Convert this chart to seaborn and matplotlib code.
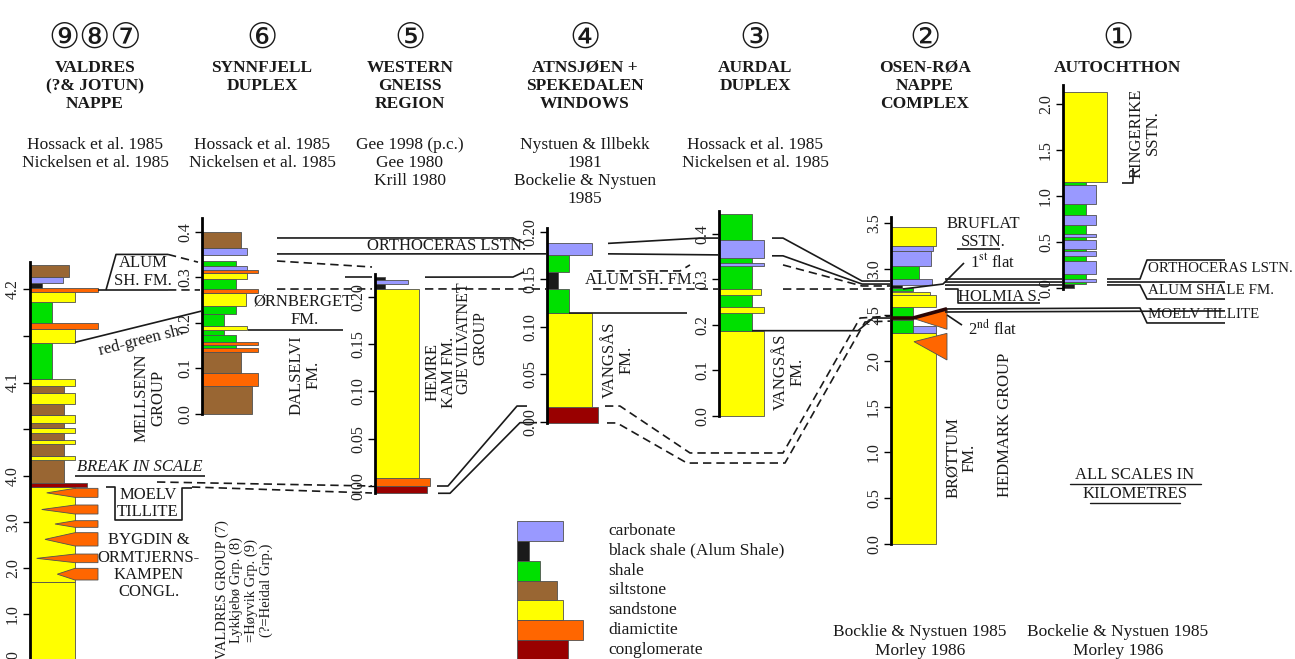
import numpy as np
import pandas as pd
import matplotlib
matplotlib.use("Agg")
import matplotlib.pyplot as plt
from matplotlib.patches import Polygon
from matplotlib.transforms import blended_transform_factory
import seaborn as sns

# ---------------------------------------------------------------- lithologies
LITH_NAMES = ["carbonate", "black shale", "shale", "siltstone",
              "sandstone", "diamictite", "conglomerate"]
LITH_LABELS = ["carbonate", "black shale (Alum Shale)", "shale", "siltstone",
               "sandstone", "diamictite", "conglomerate"]
LITH_HEX = ["#9999FF", "#1A1A1A", "#00E000", "#996633",
            "#FFFF00", "#FF6600", "#990000"]
LEGEND_PROFILE = [46, 12, 23, 40, 46, 66, 51]

# ------------------------------------------- columns: (lithology, base, top, profile width)
VALDRES = [
    ("sandstone", 0.0, 1.70, 45), ("sandstone", 1.70, 3.767, 45),
    ("conglomerate", 3.767, 3.855, 57), ("siltstone", 3.855, 4.0167, 34),
    ("sandstone", 4.0167, 4.0212, 45), ("siltstone", 4.0212, 4.0338, 34),
    ("sandstone", 4.0338, 4.0383, 45), ("siltstone", 4.0383, 4.0459, 34),
    ("sandstone", 4.0459, 4.0509, 45), ("siltstone", 4.0509, 4.0563, 34),
    ("sandstone", 4.0563, 4.0653, 45), ("siltstone", 4.0653, 4.0765, 34),
    ("sandstone", 4.0765, 4.0891, 45), ("siltstone", 4.0891, 4.0968, 34),
    ("sandstone", 4.0968, 4.1035, 45), ("shale", 4.1035, 4.1418, 22),
    ("sandstone", 4.1418, 4.1575, 45), ("diamictite", 4.1575, 4.164, 68),
    ("shale", 4.164, 4.186, 22), ("sandstone", 4.186, 4.197, 45),
    ("diamictite", 4.197, 4.2015, 68), ("black shale", 4.2015, 4.206, 12),
    ("carbonate", 4.206, 4.2125, 33), ("siltstone", 4.2125, 4.226, 39),
]
# diamictite lenses in the Bygdin conglomerate: (base, top, tip offset)
VALDRES_LENSES = [(3.536, 3.732, 16.7), (3.174, 3.370, 11.7), (2.884, 3.029, 25.0),
                  (2.478, 2.768, 15.0), (2.116, 2.304, 6.7), (1.739, 1.993, 27.3)]

SYNNFJELL = [
    ("siltstone", 0.0, 0.062, 50), ("diamictite", 0.062, 0.089, 56),
    ("siltstone", 0.089, 0.137, 39), ("diamictite", 0.137, 0.144, 56),
    ("shale", 0.144, 0.151, 34), ("diamictite", 0.151, 0.158, 56),
    ("shale", 0.158, 0.173, 34), ("shale", 0.173, 0.184, 22),
    ("sandstone", 0.184, 0.193, 45), ("shale", 0.193, 0.220, 22),
    ("shale", 0.220, 0.236, 34), ("sandstone", 0.236, 0.265, 44),
    ("diamictite", 0.265, 0.275, 56), ("shale", 0.275, 0.297, 34),
    ("sandstone", 0.297, 0.309, 45), ("diamictite", 0.309, 0.315, 56),
    ("carbonate", 0.315, 0.324, 45), ("shale", 0.324, 0.336, 34),
    ("carbonate", 0.348, 0.365, 45), ("siltstone", 0.365, 0.400, 39),
]

WESTERN_GNEISS = [
    ("conglomerate", -0.0074, 0.0, 52), ("diamictite", 0.0, 0.008, 55),
    ("sandstone", 0.008, 0.208, 44), ("black shale", 0.208, 0.221, 10),
    ("carbonate", 0.2135, 0.2175, 33),
]

ATNSJOEN = [
    ("conglomerate", -0.001, 0.016, 51), ("sandstone", 0.016, 0.115, 45),
    ("shale", 0.115, 0.140, 22), ("black shale", 0.140, 0.158, 11),
    ("shale", 0.158, 0.176, 22), ("carbonate", 0.176, 0.188, 45),
]

AURDAL = [
    ("sandstone", 0.0, 0.1875, 45), ("shale", 0.1875, 0.444, 33),
    ("sandstone", 0.226, 0.239, 45), ("sandstone", 0.267, 0.279, 42),
    ("carbonate", 0.330, 0.336, 45), ("carbonate", 0.348, 0.386, 45),
]

OSEN_ROA = [
    ("sandstone", 0.0, 2.30, 45), ("carbonate", 2.30, 2.38, 45),
    ("shale", 2.30, 2.45, 22), ("shale", 2.45, 2.59, 22),
    ("sandstone", 2.59, 2.72, 45), ("sandstone", 2.72, 2.75, 39),
    ("shale", 2.76, 2.79, 22), ("black shale", 2.79, 2.83, 11),
    ("carbonate", 2.83, 2.89, 41), ("shale", 2.89, 3.035, 28),
    ("carbonate", 3.035, 3.20, 40), ("carbonate", 3.20, 3.25, 42),
    ("sandstone", 3.25, 3.46, 45),
]
# diamictite wedges on the thrust flats: (base, top, tip level)
OSEN_ROA_WEDGES = [(2.344, 2.562, 2.46), (2.009, 2.300, 2.209)]

AUTOCHTHON = [
    ("black shale", 0.0, 0.04, 11), ("shale", 0.04, 0.06, 23),
    ("carbonate", 0.06, 0.10, 33), ("shale", 0.10, 0.15, 23),
    ("carbonate", 0.15, 0.29, 33), ("shale", 0.29, 0.35, 23),
    ("carbonate", 0.35, 0.40, 33), ("shale", 0.40, 0.42, 23),
    ("carbonate", 0.42, 0.52, 33), ("shale", 0.52, 0.55, 23),
    ("carbonate", 0.55, 0.59, 33), ("shale", 0.59, 0.69, 23),
    ("carbonate", 0.69, 0.79, 33), ("shale", 0.79, 0.92, 23),
    ("carbonate", 0.92, 1.12, 33), ("shale", 1.12, 1.15, 23),
    ("sandstone", 1.15, 2.14, 44),
]

# ---------------------------------------------------------------- headers
HEADER_NUMBERS = ["⑨⑧⑦", "⑥", "⑤", "④", "③", "②", "①"]
HEADER_TITLES = [
    ["VALDRES", "(?& JOTUN)", "NAPPE"], ["SYNNFJELL", "DUPLEX"],
    ["WESTERN", "GNEISS", "REGION"], ["ATNSJØEN +", "SPEKEDALEN", "WINDOWS"],
    ["AURDAL", "DUPLEX"], ["OSEN-RØA", "NAPPE", "COMPLEX"], ["AUTOCHTHON"],
]
HEADER_REFS = [
    ["Hossack et al. 1985", "Nickelsen et al. 1985"],
    ["Hossack et al. 1985", "Nickelsen et al. 1985"],
    ["Gee 1998 (p.c.)", "Gee 1980", "Krill 1980"],
    ["Nystuen & Illbekk", "1981", "Bockelie & Nystuen", "1985"],
    ["Hossack et al. 1985", "Nickelsen et al. 1985"],
    [], [],
]
FOOT_REFS = [["Bocklie & Nystuen 1985", "Morley 1986"],
             ["Bockelie & Nystuen 1985", "Morley 1986"]]

# ---------------------------------------------------------------- figure
W, H, DPI = 1295, 659, 100
sns.set_theme(style="white")
plt.rcParams["font.family"] = ["Liberation Serif", "DejaVu Sans"]
plt.rcParams["mathtext.fontset"] = "stix"
COLOR = dict(zip(LITH_NAMES, LITH_HEX))
INK = "#1a1a1a"

fig = plt.figure(figsize=(W / DPI, H / DPI), dpi=DPI)
fig.patch.set_facecolor("white")
canvas = fig.add_axes([0, 0, 1, 1], zorder=10)
canvas.set_xlim(0, W)
canvas.set_ylim(H, 0)
canvas.axis("off")
canvas.patch.set_alpha(0)

STRETCH = 935.0 / 46.0


def fwd(v):
    v = np.asarray(v, dtype=float)
    return np.where(v <= 4.0, v, 4.0 + (v - 4.0) * STRETCH)


def inv(u):
    u = np.asarray(u, dtype=float)
    return np.where(u <= 4.0, u, 4.0 + (u - 4.0) / STRETCH)


# spine position (px), spine extent (px) and the values at its ends
LAYOUT = {
    "c9": dict(x=30, top=262, bot=660, vtop=4.2289, vbot=0.0,
               ticks=[0, 1, 2, 3, 4, 4.1, 4.2], minor=[4.05, 4.15], fmt="{:.1f}"),
    "c6": dict(x=202, top=218, bot=414, vtop=0.4298, vbot=0.0,
               ticks=[0, 0.1, 0.2, 0.3, 0.4], fmt="{:.1f}"),
    "c5": dict(x=375, top=274, bot=493, vtop=0.2243, vbot=-0.0074,
               ticks=[0, 0.05, 0.10, 0.15, 0.20], fmt="{:.2f}"),
    "c4": dict(x=547, top=228, bot=423, vtop=0.2042, vbot=-0.00105,
               ticks=[0, 0.05, 0.10, 0.15, 0.20], fmt="{:.2f}"),
    "c3": dict(x=719, top=211, bot=416, vtop=0.4505, vbot=0.0,
               ticks=[0, 0.1, 0.2, 0.3, 0.4], fmt="{:.1f}"),
    "c2": dict(x=891, top=217, bot=544, vtop=3.570, vbot=0.0,
               ticks=[0, 0.5, 1.0, 1.5, 2.0, 2.5, 3.0, 3.5], fmt="{:.1f}"),
    "c1": dict(x=1063, top=85, bot=289, vtop=2.211, vbot=-0.011,
               ticks=[0, 0.5, 1.0, 1.5, 2.0], fmt="{:.1f}"),
}
COLUMN_DATA = {"c9": VALDRES, "c6": SYNNFJELL, "c5": WESTERN_GNEISS, "c4": ATNSJOEN,
               "c3": AURDAL, "c2": OSEN_ROA, "c1": AUTOCHTHON}
AX_W = 90

axes = {}
for key, lay in LAYOUT.items():
    ax = fig.add_axes([lay["x"] / W, 1 - lay["bot"] / H, AX_W / W,
                       (lay["bot"] - lay["top"]) / H], zorder=5)
    ax.patch.set_alpha(0)
    if key == "c9":
        ax.set_yscale("function", functions=(fwd, inv))
    ax.set_xlim(0, AX_W)
    ax.set_ylim(lay["vbot"], lay["vtop"])
    for side in ("top", "right", "bottom"):
        ax.spines[side].set_visible(False)
    ax.spines["left"].set_linewidth(2.0)
    ax.spines["left"].set_color("black")
    ax.spines["left"].set_zorder(6)
    ax.set_xticks([])
    ax.set_yticks(lay["ticks"])
    ax.set_yticklabels([lay["fmt"].format(t) for t in lay["ticks"]],
                       rotation=90, va="center", fontsize=11.5, color="#222")
    if "minor" in lay:
        ax.set_yticks(lay["minor"], minor=True)
    ax.tick_params(axis="y", which="both", direction="out", length=5, width=1,
                   pad=1.5, left=True, color="black")
    ax.grid(False)
    for lith, base, top, width in COLUMN_DATA[key]:
        ax.bar(0, top - base, bottom=base, width=width, align="edge",
               color=COLOR[lith], edgecolor="#505050", linewidth=0.6,
               clip_on=False, zorder=2)
    axes[key] = ax

# lenses and wedges of diamictite
ax9 = axes["c9"]
for base, top, tip in VALDRES_LENSES:
    ax9.add_patch(Polygon([(tip, (base + top) / 2), (45, top), (68, top), (68, base),
                           (45, base)], closed=True, facecolor=COLOR["diamictite"],
                          edgecolor="#505050", linewidth=0.6, clip_on=False, zorder=3))
ax2 = axes["c2"]
for base, top, tip in OSEN_ROA_WEDGES:
    ax2.add_patch(Polygon([(23, tip), (56, top), (56, base)], closed=True,
                          facecolor=COLOR["diamictite"], edgecolor="#505050",
                          linewidth=0.6, clip_on=False, zorder=3))


def to_canvas(col, x, v):
    tr = blended_transform_factory(canvas.transData, axes[col].transData)
    return canvas.transData.inverted().transform(tr.transform((x, v)))


# ---------------------------------------------------------------- correlation lines
SOLID, DASH = "-", (0, (5, 3))
LINES = [
    # Alum Shale bracket, Valdres -> Synnfjell
    (SOLID, [("c9", 98, 4.199), ("c9", 168, 4.199)]),
    (DASH, [("c9", 168, 4.199), ("c6", 200, 0.272)]),
    (SOLID, [("c9", 106, 4.199), ("c9", 116, 4.237), ("c9", 168, 4.237)]),
    (DASH, [("c9", 168, 4.237), ("c6", 198, 0.333)]),
    # red-green shale
    (SOLID, [("c9", 75, 4.143), ("c6", 202, 0.226)]),
    # Ørnberget / Dalselvi boundary
    (SOLID, [("c6", 248, 0.184), ("c6", 343, 0.184)]),
    # break in scale
    (SOLID, [("c9", 75, 4.0), ("c9", 205, 4.0)]),
    # Moelv Tillite bracket
    (SOLID, [("c9", 106, 3.761), ("c9", 115, 3.761), ("c9", 115, 3.043),
             ("c9", 182, 3.043), ("c9", 182, 3.739), ("c9", 192, 3.739)]),
    (DASH, [("c9", 157, 3.87), ("c5", 372, 0.0)]),
    (DASH, [("c9", 192, 3.761), ("c5", 372, -0.0074)]),
    # Orthoceras Limestone, Synnfjell -> Atnsjøen
    (SOLID, [("c6", 277, 0.386), ("c4", 513, 0.1937), ("c4", 524, 0.188)]),
    (SOLID, [("c6", 277, 0.351), ("c4", 547, 0.177)]),
    (DASH, [("c6", 277, 0.3355), ("c5", 372, 0.2317)]),
    (SOLID, [("c5", 345, 0.221), ("c5", 372, 0.221)]),
    (DASH, [("c6", 277, 0.274), ("c5", 372, 0.2085)]),
    (SOLID, [("c5", 425, 0.221), ("c4", 513, 0.1526), ("c4", 524, 0.158)]),
    (DASH, [("c5", 425, 0.2085), ("c4", 547, 0.14)]),
    # Alum Shale, Atnsjøen -> Aurdal
    (DASH, [("c4", 593, 0.159), ("c4", 680, 0.159), ("c3", 690, 0.332)]),
    (DASH, [("c4", 593, 0.14), ("c3", 719, 0.279)]),
    # Orthoceras Limestone, Atnsjøen -> Aurdal
    (SOLID, [("c4", 608, 0.188), ("c3", 700, 0.391), ("c3", 719, 0.391)]),
    (SOLID, [("c4", 608, 0.177), ("c3", 719, 0.354)]),
    # top Vangsås
    (SOLID, [("c4", 569, 0.115), ("c4", 687, 0.115)]),
    (SOLID, [("c3", 752, 0.1875), ("c3", 858, 0.1875), ("c2", 873, 2.467),
             ("c2", 891, 2.467)]),
    # base of the Cambro-Silurian cover
    (SOLID, [("c5", 437, 0.0), ("c5", 448, 0.0), ("c4", 517, 0.0168), ("c4", 527, 0.0168)]),
    (SOLID, [("c5", 438, -0.0077), ("c5", 450, -0.0077), ("c4", 520, -0.0007),
             ("c4", 537, -0.0007)]),
    (DASH, [("c4", 605, 0.0168), ("c4", 620, 0.0168), ("c4", 690, -0.0326),
            ("c3", 783, -0.0813), ("c2", 860, 2.467), ("c2", 891, 2.489)]),
    (DASH, [("c4", 607, -0.001), ("c4", 617, -0.001), ("c4", 687, -0.0432),
            ("c3", 785, -0.1033), ("c2", 865, 2.424), ("c2", 891, 2.434)]),
    # Aurdal -> Osen-Røa
    (SOLID, [("c3", 772, 0.391), ("c3", 783, 0.391), ("c2", 862, 2.871), ("c2", 891, 2.871)]),
    (SOLID, [("c3", 772, 0.352), ("c3", 783, 0.352), ("c2", 862, 2.838), ("c2", 891, 2.838)]),
    (DASH, [("c3", 783, 0.332), ("c2", 862, 2.817), ("c2", 891, 2.817)]),
    (DASH, [("c3", 783, 0.279), ("c2", 891, 2.784)]),
    # Osen-Røa -> Autochthon
    (SOLID, [("c2", 945, 2.893), ("c1", 1063, 0.098)]),
    (SOLID, [("c2", 945, 2.860), ("c1", 1063, 0.065)]),
    (SOLID, [("c2", 945, 2.827), ("c1", 1063, 0.033)]),
    (SOLID, [("c1", 1107, 0.098), ("c1", 1140, 0.098), ("c1", 1147, 0.305), ("c1", 1225, 0.305)]),
    (SOLID, [("c1", 1107, 0.065), ("c1", 1225, 0.065)]),
    (SOLID, [("c1", 1107, 0.033), ("c1", 1140, 0.033), ("c1", 1147, -0.12), ("c1", 1225, -0.12)]),
    (SOLID, [("c2", 945, 2.784), ("c2", 958, 2.784), ("c2", 958, 2.631), ("c2", 1040, 2.631)]),
    (SOLID, [("c2", 945, 2.566), ("c1", 1140, -0.218), ("c1", 1147, -0.381), ("c1", 1225, -0.381)]),
    (SOLID, [("c2", 945, 2.533), ("c1", 1225, -0.25)]),
    # flats, Bruflat and Ringerike brackets
    (SOLID, [("c2", 903, 2.784), ("c2", 943, 2.838), ("c2", 964, 3.068)]),
    (SOLID, [("c2", 947, 2.50), ("c2", 962, 2.39)]),
    (SOLID, [("c2", 957, 3.22), ("c2", 1000, 3.22)]),
    (SOLID, [("c1", 1122, 1.146), ("c1", 1133, 1.146), ("c1", 1133, 1.307)]),
]
for style, pts in LINES:
    xy = np.array([to_canvas(*p) for p in pts])
    canvas.plot(xy[:, 0], xy[:, 1], color=INK, lw=1.2, linestyle=style,
                solid_capstyle="butt")

# second thrust flat
thrust = np.array([to_canvas(*p) for p in [("c2", 891, 2.467), ("c2", 913, 2.467),
                                            ("c2", 947, 2.568)]])
canvas.plot(thrust[:, 0], thrust[:, 1], color="#2a0505", lw=2.6, solid_capstyle="butt")

# ---------------------------------------------------------------- headers
HEADER_X = [95, 262, 410, 585, 755, 925, 1118]
for x, num, title, refs in zip(HEADER_X, HEADER_NUMBERS, HEADER_TITLES, HEADER_REFS):
    canvas.text(x, 38, num, ha="center", va="center", fontsize=25,
                family=["DejaVu Sans"], color=INK)
    for i, line in enumerate(title):
        canvas.text(x, 68 + 18 * i, line, ha="center", va="center",
                    fontsize=12.5, fontweight="bold", color=INK)
    for i, line in enumerate(refs):
        canvas.text(x, 145 + 18 * i, line, ha="center", va="center",
                    fontsize=12.5, color=INK)
for x, refs in zip([920, 1118], FOOT_REFS):
    for i, line in enumerate(refs):
        canvas.text(x, 632 + 19 * i, line, ha="center", va="center",
                    fontsize=12.5, color=INK)

# ---------------------------------------------------------------- unit labels
LBL = dict(ha="center", va="center", color=INK, fontsize=12, linespacing=1.05)
canvas.text(143, 263, "ALUM", **LBL)
canvas.text(143, 281, "SH. FM.", **LBL)
canvas.text(141, 341, "red-green sh.", rotation=14, rotation_mode="anchor", **LBL)
canvas.text(150, 398, "MELLSENN\nGROUP", rotation=90, **LBL)
canvas.text(140, 467, "BREAK IN SCALE", style="italic", **LBL)
canvas.text(148, 495, "MOELV", **LBL)
canvas.text(148, 512, "TILLITE", **LBL)
for i, line in enumerate(["BYGDIN &", "ORMTJERNS-", "KAMPEN", "CONGL."]):
    canvas.text(149, 540 + 17.5 * i, line, **LBL)
canvas.text(244, 590, "VALDRES GROUP (7)\nLykkjebø Grp. (8)\n=Høyvik Grp. (9)\n(?=Heidal Grp.)",
            rotation=90, ha="center", va="center", color=INK, fontsize=10.5,
            linespacing=1.12, multialignment="center")
canvas.text(303, 301, "ØRNBERGET", **LBL)
canvas.text(305, 320, "FM.", **LBL)
canvas.text(305, 375, "DALSELVI\nFM.", rotation=90, **LBL)
canvas.text(441, 372, "HEMRE\nKAM FM.", rotation=90, **LBL)
canvas.text(472, 338, "GJEVILVATNET\nGROUP", rotation=90, ha="center", va="center",
            color=INK, fontsize=11.5, linespacing=1.05)
canvas.text(447, 246, "ORTHOCERAS LSTN.", **LBL)
canvas.text(640, 280, "ALUM SH. FM.", **LBL)
canvas.text(618, 360, "VANGSÅS\nFM.", rotation=90, **LBL)
canvas.text(789, 372, "VANGSÅS\nFM.", rotation=90, **LBL)
canvas.text(983, 224, "BRUFLAT", **LBL)
canvas.text(983, 242, "SSTN.", **LBL)
canvas.text(993, 263, r"1$^{\rm st}$ flat", **LBL)
canvas.text(1000, 297, "HOLMIA S.", **LBL)
canvas.text(993, 329, r"2$^{\rm nd}$ flat", **LBL)
canvas.text(961, 458, "BRØTTUM\nFM.", rotation=90, **LBL)
canvas.text(1005, 425, "HEDMARK GROUP", rotation=90, **LBL)
canvas.text(1145, 133, "RINGERIKE\nSSTN.", rotation=90, **LBL)
RIGHT = dict(ha="left", va="center", color=INK, fontsize=10.8)
canvas.text(1148, 268, "ORTHOCERAS LSTN.", **RIGHT)
canvas.text(1148, 291, "ALUM SHALE FM.", **RIGHT)
canvas.text(1148, 315, "MOELV TILLITE", **RIGHT)
canvas.text(1135, 475, "ALL SCALES IN", **LBL)
canvas.text(1135, 494, "KILOMETRES", **LBL)
canvas.plot([1070, 1201], [484, 484], color=INK, lw=1.0)
canvas.plot([1090, 1180], [503, 503], color=INK, lw=1.0)

# ---------------------------------------------------------------- lithology key
legend_df = pd.DataFrame({"lith": LITH_LABELS, "profile": LEGEND_PROFILE})
lax = fig.add_axes([517 / W, 1 - 660 / H, 70 / W, (660 - 521) / H], zorder=6)
sns.barplot(data=legend_df, x="profile", y="lith", hue="lith", orient="h",
            palette=dict(zip(LITH_LABELS, LITH_HEX)), saturation=1.0, width=1.0,
            legend=False, edgecolor="#505050", linewidth=0.6, ax=lax)
lax.set_xlim(0, 70)
lax.axis("off")
for i, label in enumerate(LITH_LABELS):
    lax.text(91, i, label, ha="left", va="center", fontsize=12.5, color=INK, clip_on=False)

fig.savefig("out.png", dpi=DPI, facecolor="white")
